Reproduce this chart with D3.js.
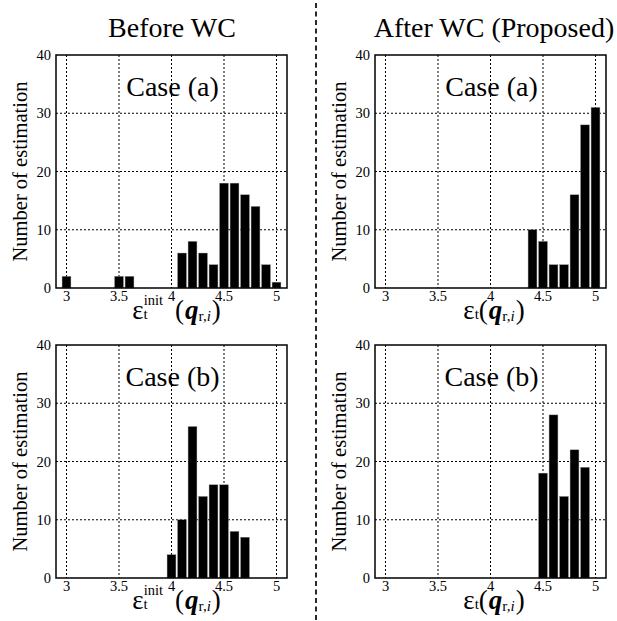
<!DOCTYPE html>
<html>
<head>
<meta charset="utf-8">
<script src="https://cdn.jsdelivr.net/npm/d3@7"></script>
<style>
  html, body { margin: 0; padding: 0; background: #fff; }
  svg { display: block; }
  svg text { font-family: "Liberation Serif", "Times New Roman", serif; fill: #000; }
</style>
</head>
<body>
<div id="chart"></div>
<script>
// histogram bins (bin centre) and counts
var beforeABins   = [3.0, 3.5, 3.6, 4.1, 4.2, 4.3, 4.4, 4.5, 4.6, 4.7, 4.8, 4.9, 5.0];
var beforeACounts = [2, 2, 2, 6, 8, 6, 4, 18, 18, 16, 14, 4, 1];
var afterABins    = [4.4, 4.5, 4.6, 4.7, 4.8, 4.9, 5.0];
var afterACounts  = [10, 8, 4, 4, 16, 28, 31];
var beforeBBins   = [4.0, 4.1, 4.2, 4.3, 4.4, 4.5, 4.6, 4.7];
var beforeBCounts = [4, 10, 26, 14, 16, 16, 8, 7];
var afterBBins    = [4.5, 4.6, 4.7, 4.8, 4.9];
var afterBCounts  = [18, 28, 14, 22, 19];

var xTicks = [3, 3.5, 4, 4.5, 5];
var xTickLabels = ['3', '3.5', '4', '4.5', '5'];
var yTicks = [0, 10, 20, 30, 40];
var columnTitles = ['Before WC', 'After WC (Proposed)'];
var caseLabels = ['Case (a)', 'Case (b)'];
var yLabel = 'Number of estimation';

var W = 617, H = 621;
var svg = d3.select('#chart').append('svg')
  .attr('width', W).attr('height', H);

// panel frames
var colX = [56, 375], rowY = [55, 345];
var pw = 231, ph = 233;

var panels = [
  { col: 0, row: 0, bins: beforeABins, counts: beforeACounts, init: true },
  { col: 1, row: 0, bins: afterABins,  counts: afterACounts,  init: false },
  { col: 0, row: 1, bins: beforeBBins, counts: beforeBCounts, init: true },
  { col: 1, row: 1, bins: afterBBins,  counts: afterBCounts,  init: false }
];

var x = d3.scaleLinear().domain([2.9, 5.1]).range([0, pw]);
var y = d3.scaleLinear().domain([0, 40]).range([ph, 0]);
var halfBar = 0.042;

// column titles
svg.selectAll('text.title')
  .data(columnTitles)
  .join('text')
  .attr('class', 'title')
  .attr('x', function (d, i) { return i === 0 ? 172 : 494; })
  .attr('y', 37)
  .attr('text-anchor', 'middle')
  .attr('font-size', '28px')
  .text(function (d) { return d; });

// separator
svg.append('line')
  .attr('x1', 316).attr('x2', 316)
  .attr('y1', 3).attr('y2', H)
  .attr('stroke', '#111')
  .attr('stroke-width', 1.8)
  .attr('stroke-dasharray', '5,3.5');

panels.forEach(function (p) {
  var g = svg.append('g')
    .attr('transform', 'translate(' + colX[p.col] + ',' + rowY[p.row] + ')');

  // dotted grid
  g.append('g').selectAll('line')
    .data(xTicks)
    .join('line')
    .attr('x1', function (d) { return x(d); })
    .attr('x2', function (d) { return x(d); })
    .attr('y1', 0).attr('y2', ph)
    .attr('stroke', '#000').attr('stroke-width', 1)
    .attr('stroke-dasharray', '2,2');
  g.append('g').selectAll('line')
    .data(yTicks.slice(1, -1))
    .join('line')
    .attr('y1', function (d) { return y(d); })
    .attr('y2', function (d) { return y(d); })
    .attr('x1', 0).attr('x2', pw)
    .attr('stroke', '#000').attr('stroke-width', 1)
    .attr('stroke-dasharray', '2,2');

  // bars
  var data = p.bins.map(function (b, i) { return { b: b, c: p.counts[i] }; });
  g.append('g').selectAll('rect')
    .data(data)
    .join('rect')
    .attr('x', function (d) { return x(d.b - halfBar); })
    .attr('width', function (d) { return x(d.b + halfBar) - x(d.b - halfBar); })
    .attr('y', function (d) { return y(d.c); })
    .attr('height', function (d) { return y(0) - y(d.c); })
    .attr('fill', '#000')
    .attr('stroke', '#888')
    .attr('stroke-width', 0.4);

  // frame
  g.append('rect')
    .attr('x', 0).attr('y', 0).attr('width', pw).attr('height', ph)
    .attr('fill', 'none').attr('stroke', '#000').attr('stroke-width', 1.5);

  // tick labels
  g.append('g').selectAll('text')
    .data(xTicks)
    .join('text')
    .attr('x', function (d) { return x(d); })
    .attr('y', ph + 13)
    .attr('text-anchor', 'middle')
    .attr('font-size', '14.5px')
    .text(function (d, i) { return xTickLabels[i]; });
  g.append('g').selectAll('text')
    .data(yTicks)
    .join('text')
    .attr('x', -5)
    .attr('y', function (d) { return y(d); })
    .attr('dy', '0.35em')
    .attr('text-anchor', 'end')
    .attr('font-size', '14.5px')
    .text(function (d) { return d; });

  // case label
  g.append('text')
    .attr('x', pw / 2 + 1)
    .attr('y', 40.5)
    .attr('text-anchor', 'middle')
    .attr('font-size', '28px')
    .text(caseLabels[p.row]);

  // y label
  g.append('text')
    .attr('transform', 'translate(-36,' + (ph / 2) + ') rotate(-90)')
    .attr('text-anchor', 'middle')
    .attr('dy', '0.35em')
    .attr('font-size', '20.5px')
    .text(yLabel);

  // x label: eps_t^init(q_{r,i})
  var xl = g.append('text')
    .attr('x', pw / 2 + (p.init ? 5 : 3.5))
    .attr('y', ph + 30.5)
    .attr('text-anchor', 'middle')
    .attr('font-size', '27px');
  xl.append('tspan').text('\u03b5');
  xl.append('tspan').attr('font-size', '15px').attr('dy', 0.5).text('t');
  if (p.init) {
    xl.append('tspan').attr('font-size', '14.5px').attr('dx', -4).attr('dy', -14).text('init');
    xl.append('tspan').attr('dx', 12).attr('dy', 13.5).text('(');
  } else {
    xl.append('tspan').attr('dy', -0.5).text('(');
  }
  xl.append('tspan').attr('dx', 1).attr('font-weight', 'bold').attr('font-style', 'italic').text('q');
  xl.append('tspan').attr('font-size', '15px').attr('dy', 2).text('r,');
  xl.append('tspan').attr('font-size', '15px').attr('font-style', 'italic').text('i');
  xl.append('tspan').attr('dx', 1).attr('dy', -2).text(')');
});
</script>
</body>
</html>
